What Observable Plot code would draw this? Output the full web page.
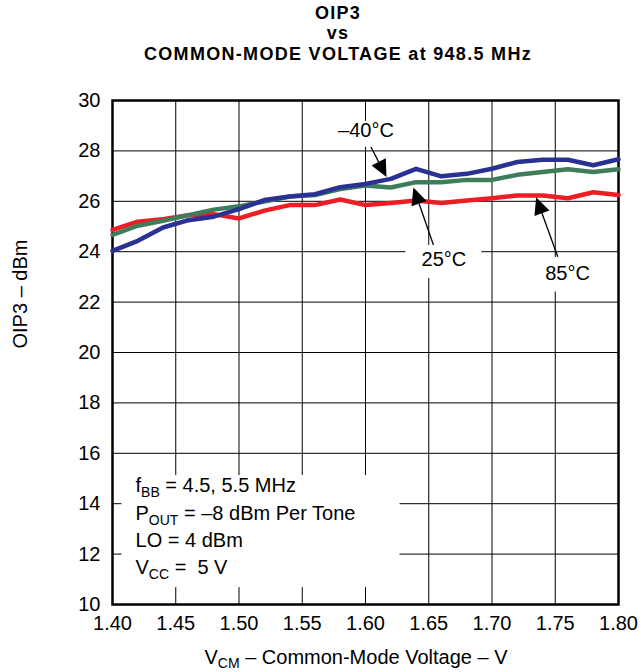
<!DOCTYPE html>
<html><head><meta charset="utf-8">
<script src="https://cdn.jsdelivr.net/npm/d3@7"></script>
<script src="https://cdn.jsdelivr.net/npm/@observablehq/plot@0.6"></script>
<style>
body{margin:0;background:#fff;font-family:"Liberation Sans",Arial,sans-serif;overflow:hidden;}
#wrap{position:relative;width:641px;height:672px;background:#fff;}
#title{position:absolute;left:35px;top:2.5px;width:606px;text-align:center;font-weight:bold;font-size:18px;letter-spacing:1.3px;line-height:20.5px;color:#000;white-space:nowrap;}
#chart{position:absolute;left:0;top:60px;}
#xl{position:absolute;left:56px;width:600px;top:647px;text-align:center;font-size:20px;line-height:20px;color:#000;white-space:nowrap;}
#xl sub{font-size:14px;vertical-align:-4px;line-height:0;}
</style>
</head><body>
<div id="wrap">
  <div id="title">OIP3<br>vs<br>COMMON-MODE VOLTAGE at 948.5 MHz</div>
  <div id="chart"></div>
  <div id="xl">V<sub>CM</sub> – Common-Mode Voltage – V</div>
</div>
<script>
// ---- data ----
const vcm = [1.40,1.42,1.44,1.46,1.48,1.50,1.52,1.54,1.56,1.58,1.60,1.62,1.64,1.66,1.68,1.70,1.72,1.74,1.76,1.78,1.80];
const oip3_m40 = [24.03,24.43,24.96,25.25,25.39,25.69,26.05,26.19,26.28,26.56,26.69,26.89,27.29,26.99,27.09,27.29,27.56,27.65,27.65,27.43,27.67];
const oip3_25  = [24.67,25.03,25.23,25.45,25.67,25.80,25.99,26.19,26.25,26.49,26.63,26.55,26.76,26.76,26.85,26.85,27.05,27.16,27.27,27.16,27.27];
const oip3_85  = [24.87,25.19,25.29,25.45,25.49,25.32,25.63,25.85,25.85,26.07,25.85,25.93,26.03,25.93,26.03,26.12,26.23,26.23,26.12,26.36,26.25];
const seriesNames = ["85°C","25°C","–40°C"];
const seriesColors = ["#ee1c25","#3e7d5a","#2b3192"];
const xTicks = [1.40,1.45,1.50,1.55,1.60,1.65,1.70,1.75,1.80];
const yTicks = [10,12,14,16,18,20,22,24,26,28,30];

// annotations (data units)
const tempLabels = [
  {x:1.6004, y:28.81, text:"–40°C"},
  {x:1.662,  y:23.67, text:"25°C"},
  {x:1.7597, y:23.135, text:"85°C"}
];
const arrows = [
  {x1:1.6047, y1:28.135, x2:1.6170, y2:26.944},
  {x1:1.6541, y1:24.246, x2:1.6383, y2:26.528},
  {x1:1.7524, y1:23.782, x2:1.7353, y2:26.139}
];
const maskBoxes = [
  {x1:1.4075, x2:1.6273, y1:15.12, y2:10.67},
  {x1:1.6320, x2:1.6920, y1:24.25, y2:22.94},
  {x1:1.7356, x2:1.7838, y1:23.77, y2:22.40},
  {x1:1.5783, x2:1.6233, y1:29.17, y2:28.14}
];
const condX = 1.4186;
const condLines = [
  {y:14.444, parts:[["f",0],["BB",1],[" = 4.5, 5.5 MHz",0]]},
  {y:13.333, parts:[["P",0],["OUT",1],[" = –8 dBm Per Tone",0]]},
  {y:12.262, parts:[["LO = 4 dBm",0]]},
  {y:11.19,  parts:[["V",0],["CC",1],[" =  5 V",0]]}
];

const rows = [];
[[oip3_85,0],[oip3_25,1],[oip3_m40,2]].forEach(([arr,i]) => arr.forEach((v,k) => rows.push({vcm:vcm[k], oip3:v, s:seriesNames[i]})));

function conditions(index, scales) {
  const g = d3.create("svg:g").attr("font-size",20).attr("fill","#000").attr("text-anchor","start")
    .attr("font-family","'Liberation Sans',Arial,sans-serif");
  for (const ln of condLines) {
    const t = g.append("text").attr("x", scales.x(condX)).attr("y", scales.y(ln.y))
      .attr("text-anchor","start").style("white-space","pre");
    let shifted = false;
    for (const [s, sub] of ln.parts) {
      const sp = t.append("tspan").text(s);
      if (sub && !shifted) { sp.attr("dy",5).attr("font-size",14); shifted = true; }
      else if (!sub && shifted) { sp.attr("dy",-5); shifted = false; }
    }
  }
  return g.node();
}
function arrowMark(index, scales) {
  const g = d3.create("svg:g");
  for (const a of arrows) {
    const x1 = scales.x(a.x1), y1 = scales.y(a.y1), x2 = scales.x(a.x2), y2 = scales.y(a.y2);
    const dx = x2-x1, dy = y2-y1, L = Math.hypot(dx,dy), ux = dx/L, uy = dy/L;
    const hl = 17, hw = 8;
    const bx = x2 - ux*hl, by = y2 - uy*hl;
    g.append("line").attr("x1",x1).attr("y1",y1).attr("x2",bx).attr("y2",by)
      .attr("stroke","#000").attr("stroke-width",1.3);
    g.append("path").attr("d",`M${x2},${y2}L${bx - uy*hw},${by + ux*hw}L${bx + uy*hw},${by - ux*hw}Z`).attr("fill","#000");
  }
  return g.node();
}

const chart = Plot.plot({
  width: 641, height: 584,
  marginTop: 40, marginBottom: 40, marginLeft: 112, marginRight: 23,
  style: {fontFamily: "'Liberation Sans',Arial,sans-serif", background: "#fff", color: "#000"},
  x: {domain: [1.40, 1.80]},
  y: {domain: [10, 30]},
  color: {domain: seriesNames, range: seriesColors},
  marks: [
    Plot.gridX(xTicks, {stroke: "#000", strokeOpacity: 1, strokeWidth: 1}),
    Plot.gridY(yTicks, {stroke: "#000", strokeOpacity: 1, strokeWidth: 1}),
    Plot.rect(maskBoxes, {x1: "x1", x2: "x2", y1: "y1", y2: "y2", fill: "white"}),
    Plot.frame({stroke: "#000", strokeWidth: 2.5}),
    Plot.line(rows, {x: "vcm", y: "oip3", z: "s", stroke: "s", strokeWidth: 4.5, strokeLinejoin: "round"}),
    arrowMark,
    Plot.text(tempLabels, {x: "x", y: "y", text: "text", fontSize: 20, fill: "#000"}),
    conditions,
    Plot.axisX(xTicks, {tickSize: 0, tickPadding: 11, tickFormat: d3.format(".2f"), fontSize: 20, label: null}),
    Plot.axisY(yTicks, {tickSize: 0, tickPadding: 12, fontSize: 20, label: null}),
    Plot.text(["OIP3 – dBm"], {frameAnchor: "left", text: d => d, rotate: -90, dx: -92, dy: -4, fontSize: 20, fill: "#000"})
  ]
});
document.getElementById("chart").appendChild(chart);
</script>
</body></html>
